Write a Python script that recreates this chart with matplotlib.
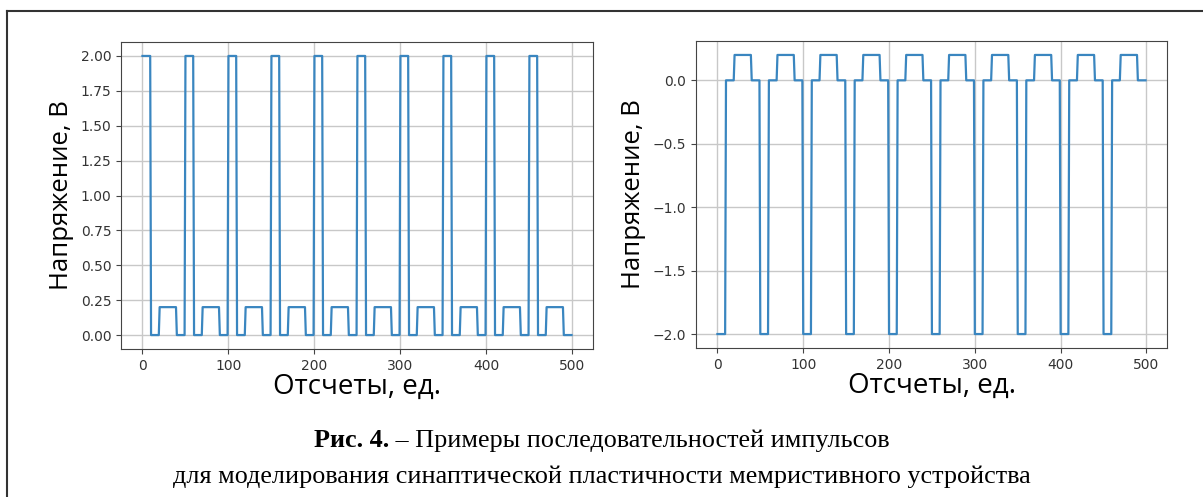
import numpy as np
import matplotlib.pyplot as plt
from matplotlib.lines import Line2D

# one period of each pulse train: levels and their lengths in samples
levels1 = [2.0, 0.0, 0.2, 0.0]
levels2 = [-2.0, 0.0, 0.2, 0.0]
seg_len = [10, 10, 20, 10]
n_samples = 500

x_ticks = [0, 100, 200, 300, 400, 500]
y_ticks1 = [0.0, 0.25, 0.5, 0.75, 1.0, 1.25, 1.5, 1.75, 2.0]
y_ticks2 = [-2.0, -1.5, -1.0, -0.5, 0.0]

xlabel = 'Отсчеты, ед.'
ylabel = 'Напряжение, В'
cap_bold = 'Рис. 4.'
cap_rest = ' – Примеры последовательностей импульсов'
cap_line2 = 'для моделирования синаптической пластичности мемристивного устройства'


def pulse_train(levels):
    period = np.repeat(levels, seg_len)
    return np.tile(period, n_samples // len(period))


W, H = 1203, 497
fig = plt.figure(figsize=(W / 100, H / 100), dpi=100)

ax1 = fig.add_axes([121 / W, 1 - 349 / H, (593 - 121) / W, (349 - 42) / H])
ax2 = fig.add_axes([696 / W, 1 - 348 / H, (1167 - 696) / W, (348 - 41) / H])

t = np.arange(n_samples)
for ax, lev, yt, fmt in [(ax1, levels1, y_ticks1, '{:.2f}'), (ax2, levels2, y_ticks2, '{:.1f}')]:
    ax.plot(t, pulse_train(lev), color='#3a86c0', lw=1.6)
    ax.set_xticks(x_ticks)
    ax.set_yticks(yt)
    ax.set_yticklabels([fmt.format(v).replace('-', '\u2212') for v in yt])
    ax.grid(True, color='#c8c8c8', lw=1.0)
    ax.tick_params(labelsize=10, colors='#444444', labelcolor='#333333')
    for s in ax.spines.values():
        s.set_color('#444444')
    ax.set_xlabel(xlabel, family='Open Sans', fontsize=20, labelpad=0)
    ax.set_ylabel(ylabel, family='Open Sans', fontsize=18.5, labelpad=5)

# caption
fs = 18.8
fig.canvas.draw()
r = fig.canvas.get_renderer()
tb = fig.text(0, 1 - 447 / H, cap_bold, family='Liberation Serif', fontsize=fs,
              weight='bold', ha='left', va='baseline')
tr = fig.text(0, 1 - 447 / H, cap_rest, family='Liberation Serif', fontsize=fs,
              ha='left', va='baseline')
wb = tb.get_window_extent(r).width
wr = tr.get_window_extent(r).width
x0 = (W - wb - wr) / 2
tb.set_x(x0 / W)
tr.set_x((x0 + wb) / W)
fig.text(0.5, 1 - 483 / H, cap_line2, family='Liberation Serif',
         fontsize=fs, ha='center', va='baseline')

# page frame (left and top edges only are visible)
fig.add_artist(Line2D([7 / W, 7 / W], [0, 1 - 11 / H], color='#333333', lw=1.5))
fig.add_artist(Line2D([7 / W, 1], [1 - 11 / H, 1 - 11 / H], color='#333333', lw=1.5))

fig.savefig('out.png', dpi=100)
